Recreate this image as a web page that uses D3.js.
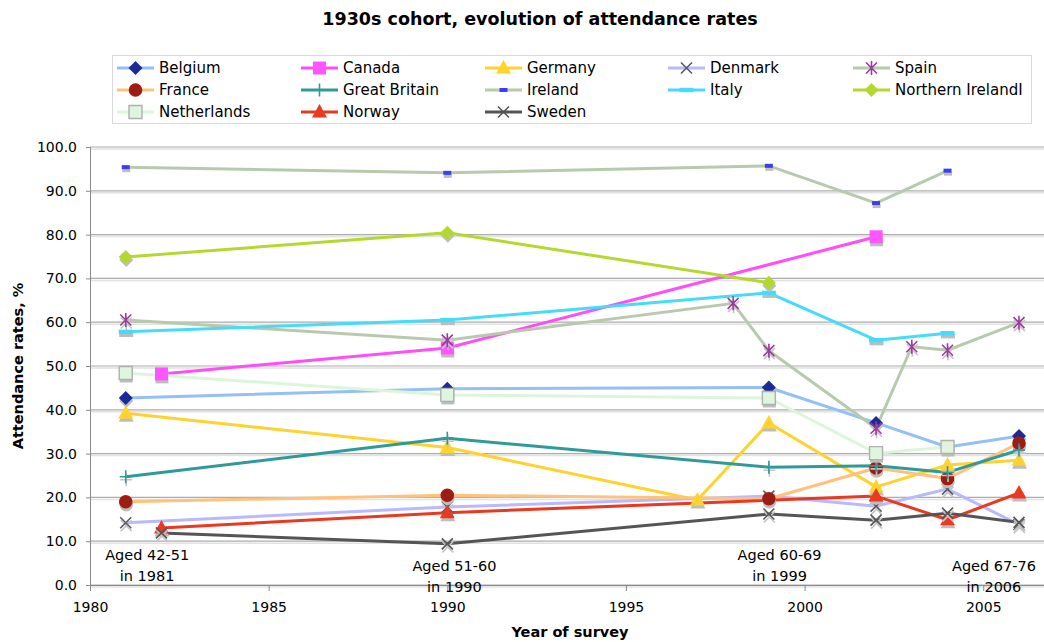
<!DOCTYPE html>
<html>
<head>
<meta charset="utf-8">
<script src="https://cdn.jsdelivr.net/npm/d3@7"></script>
<style>
  body { margin: 0; background: #fff; }
  svg { display: block; font-family: Verdana, "DejaVu Sans", sans-serif; }
</style>
</head>
<body>
<svg id="chart" width="1044" height="642"></svg>
<script>
// Church attendance rates (%) of the 1930s birth cohort, by survey year
const seriesNames = ["Belgium", "Canada", "Germany", "Denmark", "Spain",
  "France", "Great Britain", "Ireland", "Italy", "Northern IrelandI",
  "Netherlands", "Norway", "Sweden"];

const belgiumYears = [1981, 1990, 1999, 2002, 2004, 2006];
const belgiumValues = [42.7, 44.8, 45.1, 37.0, 31.5, 34.0];
const canadaYears = [1982, 1990, 2002];
const canadaValues = [48.2, 54.1, 79.5];
const germanyYears = [1981, 1990, 1997, 1999, 2002, 2004, 2006];
const germanyValues = [39.2, 31.4, 19.4, 37.0, 22.4, 27.4, 28.5];
const denmarkYears = [1981, 1990, 1999, 2002, 2004, 2006];
const denmarkValues = [14.2, 17.8, 20.3, 18.0, 21.9, 13.8];
const spainYears = [1981, 1990, 1998, 1999, 2002, 2003, 2004, 2006];
const spainValues = [60.5, 55.9, 64.3, 53.5, 35.8, 54.4, 53.6, 59.9];
const franceYears = [1981, 1990, 1999, 2002, 2004, 2006];
const franceValues = [19.0, 20.5, 19.7, 26.7, 24.3, 32.4];
const britainYears = [1981, 1990, 1999, 2002, 2004, 2006];
const britainValues = [24.7, 33.5, 26.9, 27.2, 25.7, 30.8];
const irelandYears = [1981, 1990, 1999, 2002, 2004];
const irelandValues = [95.4, 94.1, 95.7, 87.2, 94.6];
const italyYears = [1981, 1990, 1999, 2002, 2004];
const italyValues = [57.8, 60.5, 66.7, 55.9, 57.5];
const nIrelandYears = [1981, 1990, 1999];
const nIrelandValues = [74.9, 80.4, 69.0];
const netherlandsYears = [1981, 1990, 1999, 2002, 2004];
const netherlandsValues = [48.4, 43.4, 42.7, 30.1, 31.5];
const norwayYears = [1982, 1990, 2002, 2004, 2006];
const norwayValues = [13.0, 16.5, 20.3, 14.9, 21.0];
const swedenYears = [1982, 1990, 1999, 2002, 2004, 2006];
const swedenValues = [11.9, 9.4, 16.2, 14.8, 16.4, 14.3];

const yTicks = [0, 10, 20, 30, 40, 50, 60, 70, 80, 90, 100];
const xTicks = [1980, 1985, 1990, 1995, 2000, 2005];

// Age bands of the cohort at each main survey wave
const ageLabels = [
  { year: 1981.6, lines: ["Aged 42-51", "in 1981"], low: false },
  { year: 1990.2, lines: ["Aged 51-60", "in 1990"], low: true },
  { year: 1999.3, lines: ["Aged 60-69", "in 1999"], low: false },
  { year: 2005.3, lines: ["Aged 67-76", "in 2006"], low: true }
];

const yearsBySeries = [belgiumYears, canadaYears, germanyYears, denmarkYears, spainYears,
  franceYears, britainYears, irelandYears, italyYears, nIrelandYears,
  netherlandsYears, norwayYears, swedenYears];
const valuesBySeries = [belgiumValues, canadaValues, germanyValues, denmarkValues, spainValues,
  franceValues, britainValues, irelandValues, italyValues, nIrelandValues,
  netherlandsValues, norwayValues, swedenValues];

// Line colour, marker shape, marker fill / stroke for each series
const styles = [
  { line: "#94bff7", shape: "diamond", fill: "#1c2a98", stroke: "none" },
  { line: "#ff4dfa", shape: "square", fill: "#ff55ff", stroke: "none" },
  { line: "#ffd22e", shape: "triangle", fill: "#ffd22e", stroke: "none" },
  { line: "#b9b9ff", shape: "x", fill: "none", stroke: "#5a5a66" },
  { line: "#b8c9ad", shape: "asterisk", fill: "none", stroke: "#9c3aa0" },
  { line: "#ffc27c", shape: "circle", fill: "#9e1d12", stroke: "none" },
  { line: "#2f9a9a", shape: "plus", fill: "none", stroke: "#2f9a9a" },
  { line: "#b8c9ad", shape: "smalldash", fill: "#3a3ef0", stroke: "none" },
  { line: "#45dcfc", shape: "dash", fill: "#45dcfc", stroke: "none" },
  { line: "#b5d82e", shape: "diamond", fill: "#b5d82e", stroke: "none" },
  { line: "#dcf6dc", shape: "square", fill: "#ddf6dd", stroke: "#b0b0b0" },
  { line: "#e93a20", shape: "triangle", fill: "#e93a20", stroke: "none" },
  { line: "#555555", shape: "x", fill: "none", stroke: "#555555" }
];

const series = seriesNames.map((name, i) => ({
  name,
  style: styles[i],
  points: yearsBySeries[i].map((yr, j) => ({ year: yr, value: valuesBySeries[i][j] }))
}));

const svg = d3.select("#chart");
const W = 1044, H = 642;
const plot = { left: 90, top: 147, bottom: 585 };

const x = d3.scaleLinear().domain([1980, 2007]).range([plot.left, plot.left + 27 * 35.73]);
const y = d3.scaleLinear().domain([0, 100]).range([plot.bottom, plot.top]);

function markerPath(shape) {
  switch (shape) {
    case "diamond": return "M0,-7L7,0L0,7L-7,0Z";
    case "square": return "M-6.5,-6.5H6.5V6.5H-6.5Z";
    case "triangle": return "M0,-8L7.5,5.5L-7.5,5.5Z";
    case "circle": return d3.arc()({ innerRadius: 0, outerRadius: 6.8, startAngle: 0, endAngle: 2 * Math.PI });
    case "x": return "M-5.5,-5.5L5.5,5.5M5.5,-5.5L-5.5,5.5";
    case "plus": return "M-6,0H6M0,-6.5V6.5";
    case "asterisk": return "M-5.5,-5.5L5.5,5.5M5.5,-5.5L-5.5,5.5M0,-7V7";
    case "smalldash": return "M-4,-2H4V2H-4Z";
    case "dash": return "M-7,-2.2H7V2.2H-7Z";
  }
}

function drawMarker(g, st, cx, cy) {
  const d = markerPath(st.shape);
  const open = st.fill === "none";
  // soft drop shadow under each marker
  g.append("path").attr("d", d)
    .attr("transform", `translate(${cx + 0.5},${cy + 3})`)
    .attr("fill", open ? "none" : "#bdbdbd")
    .attr("stroke", open ? "#c4c4c4" : "none")
    .attr("stroke-width", open ? 1.6 : 0);
  g.append("path").attr("d", d)
    .attr("transform", `translate(${cx},${cy})`)
    .attr("fill", st.fill)
    .attr("stroke", st.stroke)
    .attr("stroke-width", open ? 1.6 : (st.stroke === "none" ? 0 : 1.4));
}

// Title
svg.append("text")
  .attr("x", 540).attr("y", 25)
  .attr("text-anchor", "middle")
  .attr("font-size", 17.5).attr("font-weight", "bold")
  .text("1930s cohort, evolution of attendance rates");

// Gridlines
const grid = svg.append("g");
yTicks.forEach(t => {
  grid.append("line").attr("x1", plot.left).attr("x2", W)
    .attr("y1", y(t) + 2).attr("y2", y(t) + 2)
    .attr("stroke", "#e2e2e2").attr("stroke-width", 1.5);
  grid.append("line").attr("x1", plot.left).attr("x2", W)
    .attr("y1", y(t)).attr("y2", y(t))
    .attr("stroke", "#acacac").attr("stroke-width", 1.2);
});

// Axes
const yAxis = d3.axisLeft(y).tickValues(yTicks).tickFormat(d3.format(".1f")).tickSize(4).tickPadding(9);
const yg = svg.append("g").attr("transform", `translate(${plot.left},0)`).call(yAxis);
yg.select(".domain").attr("stroke", "#8a8a8a");
yg.selectAll(".tick line").attr("stroke", "#8a8a8a");
yg.selectAll("text").attr("font-size", 14).attr("font-family", "Verdana, 'DejaVu Sans', sans-serif").attr("fill", "#000");

const xAxis = d3.axisBottom(x).tickValues(xTicks).tickFormat(d3.format("d")).tickSize(6).tickPadding(11);
const xg = svg.append("g").attr("transform", `translate(0,${plot.bottom})`).call(xAxis);
xg.select(".domain").attr("stroke", "#8a8a8a");
xg.selectAll(".tick line").attr("stroke", "#8a8a8a");
xg.selectAll("text").attr("font-size", 14).attr("font-family", "Verdana, 'DejaVu Sans', sans-serif").attr("fill", "#000");

// Axis titles
svg.append("text")
  .attr("x", 570).attr("y", 637)
  .attr("text-anchor", "middle")
  .attr("font-size", 14.5).attr("font-weight", "bold")
  .text("Year of survey");
svg.append("text")
  .attr("transform", `translate(23,366) rotate(-90)`)
  .attr("text-anchor", "middle")
  .attr("font-size", 14.5).attr("font-weight", "bold")
  .text("Attendance rates, %");

// Age band annotations
const ann = svg.append("g").attr("font-size", 14.5).attr("text-anchor", "middle");
ageLabels.forEach(a => {
  const top = a.low ? 571 : 560;
  a.lines.forEach((ln, k) => {
    ann.append("text").attr("x", x(a.year)).attr("y", top + k * 21).text(ln);
  });
});

// Series lines
const line = d3.line().x(d => x(d.year)).y(d => y(d.value));
const lines = svg.append("g");
series.forEach(s => {
  lines.append("path").datum(s.points)
    .attr("d", line)
    .attr("fill", "none")
    .attr("stroke", s.style.line)
    .attr("stroke-width", 3)
    .attr("stroke-linejoin", "round");
});

// Series markers
const marks = svg.append("g");
series.forEach(s => {
  const g = marks.append("g");
  s.points.forEach(p => drawMarker(g, s.style, x(p.year), y(p.value)));
});

// Legend
const legend = svg.append("g");
legend.append("rect")
  .attr("x", 112.5).attr("y", 55.5).attr("width", 919).attr("height", 68)
  .attr("fill", "#fff").attr("stroke", "#d9d9d9");
const colX = [117, 301, 485, 668, 853];
const rowY = [68, 90, 112];
series.forEach((s, i) => {
  const cx = colX[i % 5], cy = rowY[Math.floor(i / 5)];
  const g = legend.append("g");
  g.append("line").attr("x1", cx).attr("x2", cx + 37).attr("y1", cy).attr("y2", cy)
    .attr("stroke", s.style.line).attr("stroke-width", 3);
  const d = markerPath(s.style.shape);
  const open = s.style.fill === "none";
  g.append("path").attr("d", d)
    .attr("transform", `translate(${cx + 18.5},${cy})`)
    .attr("fill", s.style.fill)
    .attr("stroke", s.style.stroke)
    .attr("stroke-width", open ? 1.6 : (s.style.stroke === "none" ? 0 : 1.4));
  g.append("text").attr("x", cx + 42).attr("y", cy + 5)
    .attr("font-size", 15).text(s.name);
});
</script>
</body>
</html>
